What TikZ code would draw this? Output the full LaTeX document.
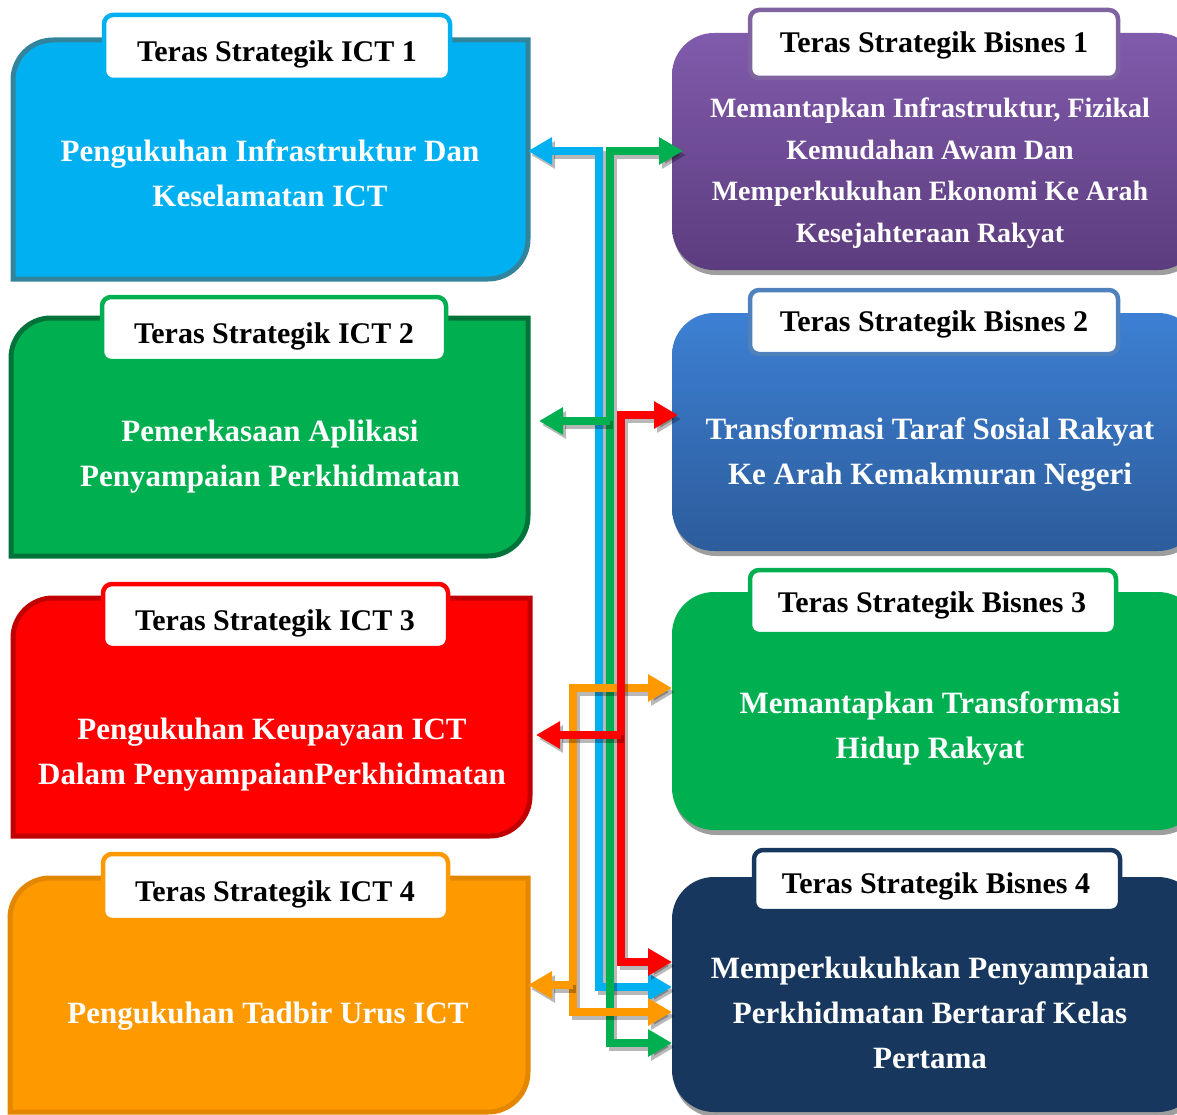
\documentclass[tikz,border=0pt]{standalone}
\usepackage{fontspec}
\setmainfont{Liberation Serif}
\usetikzlibrary{arrows.meta,calc}
\definecolor{cBlue}{HTML}{00B0F0}
\definecolor{cBlueB}{HTML}{31849B}
\definecolor{cGreen}{HTML}{00B050}
\definecolor{cGreenB}{HTML}{00733A}
\definecolor{cRed}{HTML}{FF0000}
\definecolor{cRedB}{HTML}{C00000}
\definecolor{cOrange}{HTML}{FF9900}
\definecolor{cOrangeB}{HTML}{E38600}
\definecolor{pTop}{HTML}{815BAC}
\definecolor{pBot}{HTML}{5C3C7E}
\definecolor{pTab}{HTML}{8064A2}
\definecolor{bTop}{HTML}{3D80D3}
\definecolor{bBot}{HTML}{2C5C9B}
\definecolor{bTab}{HTML}{4F81BD}
\definecolor{navy}{HTML}{17375E}
\newcommand\ictshape[3]{%
  \draw[line width=5pt, draw=#3, fill=#2, line join=miter]
    (#1.south west) -- ([yshift=-40pt]#1.north west)
    arc[start angle=180, end angle=90, radius=40pt]
    -- (#1.north east) -- ([yshift=40pt]#1.south east)
    arc[start angle=0, end angle=-90, radius=40pt] -- cycle;}
\newcommand\cpath[2]{\draw[#1,shd] #2; \draw[#1] #2;}
\begin{document}
\begin{tikzpicture}[x=1pt,y=-1pt,
  hold/.style={inner sep=0pt, outer sep=0pt, draw=none},
  bis/.style={inner sep=0pt, outer sep=0pt, rounded corners=42pt,
    minimum width=528pt},
  tabst/.style={inner sep=0pt, outer sep=0pt, fill=white, line width=4.5pt,
    rounded corners=9pt},
  ttl/.style={inner sep=0pt, font=\fontsize{30}{36}\selectfont\bfseries, text=black},
  mtxt/.style={inner sep=0pt, align=center, text=white,
    font=\fontsize{31}{45}\selectfont\bfseries},
  con1/.style={line width=8pt, line join=miter, -{Triangle[width=26pt,length=24pt]}},
  con2/.style={line width=8pt, line join=miter,
    {Triangle[width=26pt,length=24pt]}-{Triangle[width=26pt,length=24pt]}},
  shd/.style={draw=black, opacity=.28, transform canvas={shift={(3pt,-4pt)}}},
  bshadow/.style={fill=black!38}
  ]
\useasboundingbox (0,0) rectangle (1177,1115);
\clip (0,0) rectangle (1177,1115);

% ---------------- left boxes (ICT) ----------------
\node[hold, minimum width=515pt, minimum height=239pt] (ict1) at (270.5,159.5) {};
\node[hold, minimum width=517pt, minimum height=238pt] (ict2) at (269.5,437) {};
\node[hold, minimum width=517pt, minimum height=238pt] (ict3) at (271.5,717) {};
\node[hold, minimum width=518pt, minimum height=234pt] (ict4) at (269,995) {};
\ictshape{ict1}{cBlue}{cBlueB}
\ictshape{ict2}{cGreen}{cGreenB}
\ictshape{ict3}{cRed}{cRedB}
\ictshape{ict4}{cOrange}{cOrangeB}

\node[tabst, draw=cBlue, minimum width=346pt, minimum height=65pt] (tab1) at (277,47.5) {};
\node[tabst, draw=cGreen, minimum width=344pt, minimum height=64pt] (tab2) at (274,329) {};
\node[tabst, draw=cRed, minimum width=345pt, minimum height=64pt] (tab3) at (275.5,616) {};
\node[tabst, draw=cOrange, minimum width=345pt, minimum height=66pt] (tab4) at (275.5,887) {};

\node[ttl, anchor=base] (ttl1) at (277,62) {Teras Strategik ICT 1};
\node[ttl, anchor=base] (ttl2) at (274,343) {Teras Strategik ICT 2};
\node[ttl, anchor=base] (ttl3) at (275,630) {Teras Strategik ICT 3};
\node[ttl, anchor=base] (ttl4) at (275,901) {Teras Strategik ICT 4};

\node[mtxt] (txt1) at (270,173.5) {Pengukuhan Infrastruktur Dan\\Keselamatan ICT};
\node[mtxt] (txt2) at (270,457) {Pemerkasaan Aplikasi\\Penyampaian Perkhidmatan};
\node[mtxt] (txt3) at (272,755) {Pengukuhan Keupayaan ICT\\Dalam PenyampaianPerkhidmatan};
\node[mtxt] (txt4) at (268,1016) {Pengukuhan Tadbir Urus ICT};

% ---------------- right boxes (Bisnes) ----------------
\node[bis, bshadow, minimum height=237pt] at (938,156.5) {};
\node[bis, top color=pTop, bottom color=pBot, minimum height=237pt] (bis1) at (936,151.5) {};
\node[bis, bshadow, minimum height=238pt] at (938,437) {};
\node[bis, top color=bTop, bottom color=bBot, minimum height=238pt] (bis2) at (936,432) {};
\node[bis, bshadow, minimum height=238pt] at (938,716) {};
\node[bis, fill=cGreen, minimum height=238pt] (bis3) at (936,711) {};
\node[bis, bshadow, minimum height=235pt] at (938,999.5) {};
\node[bis, fill=navy, minimum height=235pt] (bis4) at (936,994.5) {};

\node[tabst, draw=pTab, minimum width=368pt, minimum height=68pt] (btab1) at (934,44) {};
\node[tabst, draw=bTab, minimum width=368pt, minimum height=64pt] (btab2) at (934,322) {};
\node[tabst, draw=cGreen, minimum width=366pt, minimum height=64pt] (btab3) at (933,602) {};
\node[tabst, draw=navy, minimum width=366pt, minimum height=61pt] (btab4) at (937,880.5) {};

\node[ttl, anchor=base] (bttl1) at (934,53) {Teras Strategik Bisnes 1};
\node[ttl, anchor=base] (bttl2) at (934,331) {Teras Strategik Bisnes 2};
\node[ttl, anchor=base] (bttl3) at (932,612) {Teras Strategik Bisnes 3};
\node[ttl, anchor=base] (bttl4) at (936,893) {Teras Strategik Bisnes 4};

\node[mtxt, font=\fontsize{28}{41.5}\selectfont\bfseries] (btxt1) at (930,173)
  {Memantapkan Infrastruktur, Fizikal\\Kemudahan Awam Dan\\Memperkukuhan Ekonomi Ke Arah\\Kesejahteraan Rakyat};
\node[mtxt] (btxt2) at (930,454.5) {Transformasi Taraf Sosial Rakyat\\Ke Arah Kemakmuran Negeri};
\node[mtxt] (btxt3) at (930,728.5) {Memantapkan Transformasi\\Hidup Rakyat};
\node[mtxt] (btxt4) at (930,1013) {Memperkukuhkan Penyampaian\\Perkhidmatan Bertaraf Kelas\\Pertama};

% ---------------- connectors ----------------
\cpath{con2, draw=cBlue}{(ict1.east |- 0,151) -- (599,151) -- (599,987) -- (bis4.west |- 0,987)}
\cpath{con2, draw=cGreen}{($(bis1.west |- 0,151)+(11,0)$) -- (610,151) -- (610,1043) -- (bis4.west |- 0,1043)}
\cpath{con1, draw=cGreen}{(610,421) -- ($(ict2.east |- 0,421)+(11,0)$)}
\cpath{con2, draw=cOrange}{(bis3.west |- 0,688) -- (573,688) -- (573,1012) -- (bis4.west |- 0,1012)}
\cpath{con1, draw=cOrange}{(573,985) -- (ict4.east |- 0,985)}
\cpath{con2, draw=cRed}{($(bis2.west |- 0,415)+(6,0)$) -- (621,415) -- (621,962) -- (bis4.west |- 0,962)}
\cpath{con1, draw=cRed}{(621,735) -- ($(ict3.east |- 0,735)+(6,0)$)}
\end{tikzpicture}
\end{document}
